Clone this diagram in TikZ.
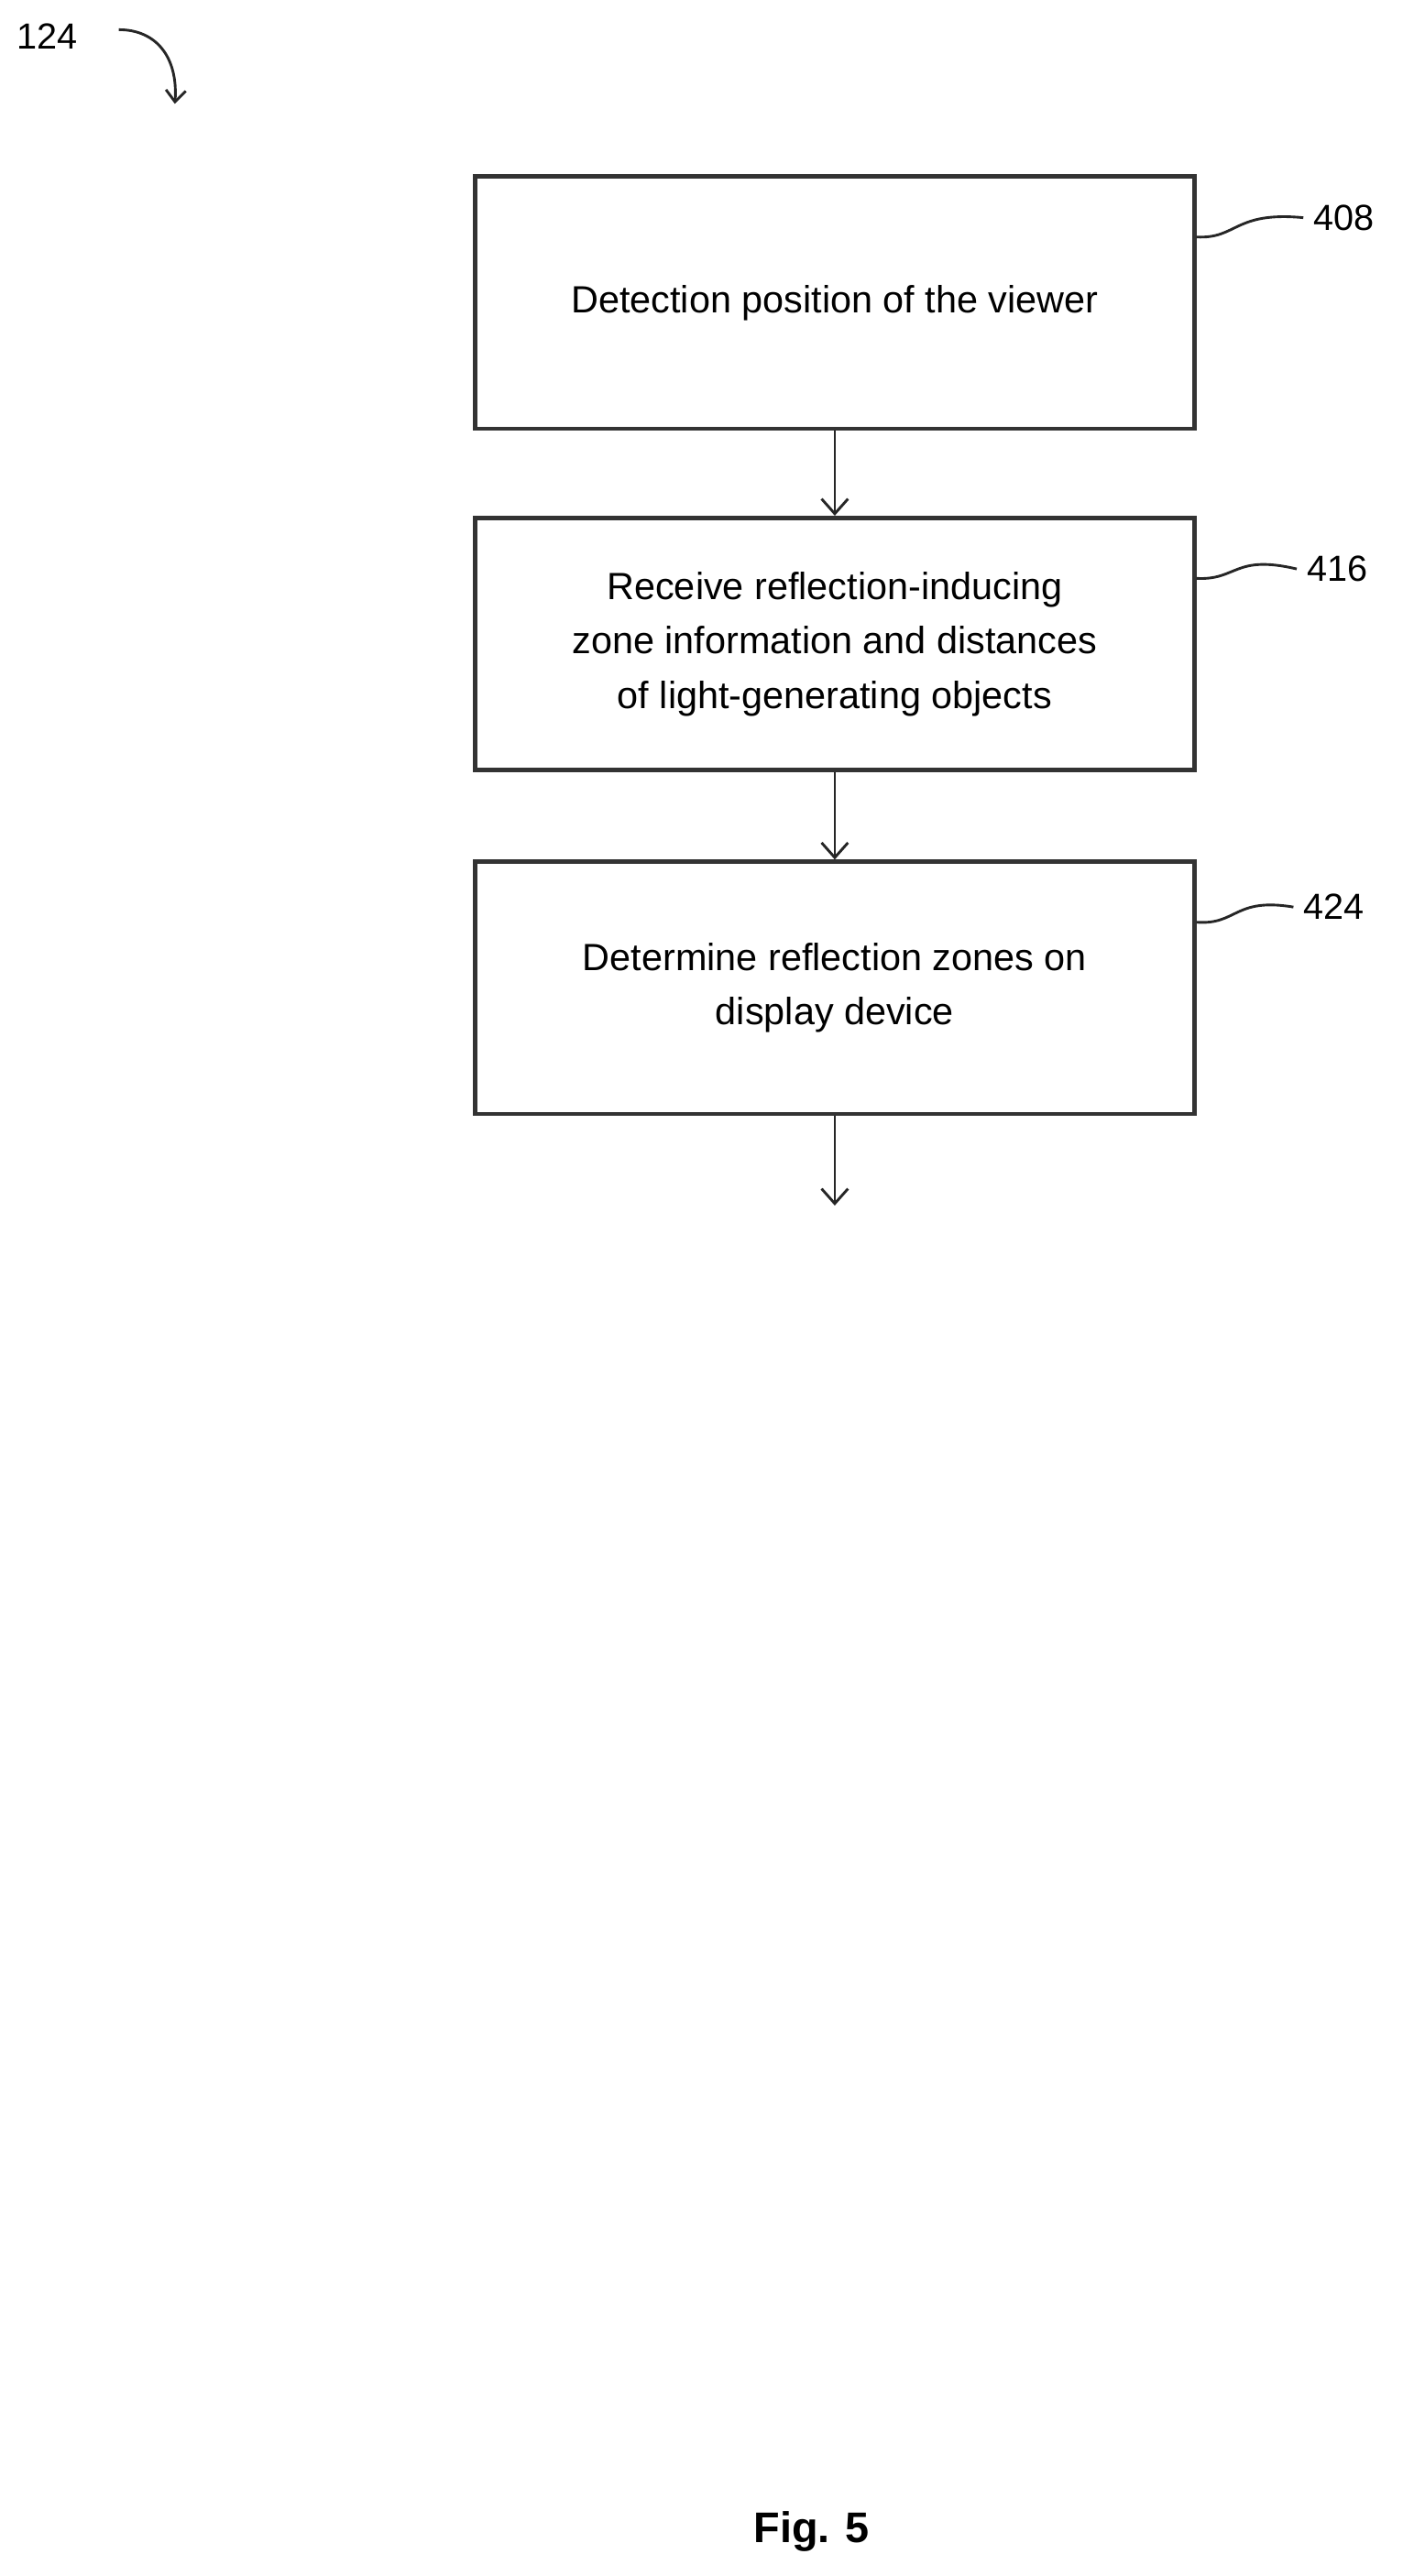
\documentclass[tikz,border=0pt]{standalone}
\usepackage{fontspec}
\setmainfont{Liberation Sans}
\usetikzlibrary{arrows.meta}
\begin{document}
\begin{tikzpicture}[x=1pt,y=-1pt,
  stepbox/.style={draw=black!80,line width=2.6pt,minimum width=436pt,minimum height=153pt,align=center,font=\fontsize{23}{33}\selectfont,inner sep=0pt},
  flow/.style={draw=black!85,line width=1.6pt,-{Straight Barb[length=9pt,width=16pt]}},
  lead/.style={draw=black!85,line width=1.6pt},
  ref/.style={font=\fontsize{22}{26}\selectfont,anchor=west,inner sep=0pt}]
\useasboundingbox (0,0) rectangle (850,1562);
\node[stepbox] (b1) at (506,183.5) {Detection position of the viewer};
\node[stepbox] (b2) at (506,390.5) {Receive reflection-inducing\\zone information and distances\\of light-generating objects};
\node[stepbox] (b3) at (506,599) {Determine reflection zones on\\display device};
\coordinate (e) at (506,731);
\draw[flow] (b1.south) -- (b2.north);
\draw[flow] (b2.south) -- (b3.north);
\draw[flow] (b3.south) -- (e);
\node[ref] (r1) at (796,132) {408};
\node[ref] (r2) at (792,345) {416};
\node[ref] (r3) at (790,550) {424};
\draw[lead] ([yshift=-38pt]b1.north east) .. controls (750,145) and (748,128) .. ([xshift=-6pt]r1.west);
\draw[lead] ([yshift=-38pt]b2.north east) .. controls (750,352) and (748,336) .. ([xshift=-6pt]r2.west);
\draw[lead] ([yshift=-38pt]b3.north east) .. controls (750,561) and (748,544) .. ([xshift=-6pt]r3.west);
\node[ref] (t) at (10,22) {124};
\coordinate (te) at (106,63);
\draw[lead,-{Straight Barb[length=7pt,width=12pt]}] (72,18) .. controls (95,18) and (108,35) .. (te);
\node[font=\bfseries\fontsize{26}{30}\selectfont] (fig) at (492,1535) {Fig. 5};
\end{tikzpicture}
\end{document}
